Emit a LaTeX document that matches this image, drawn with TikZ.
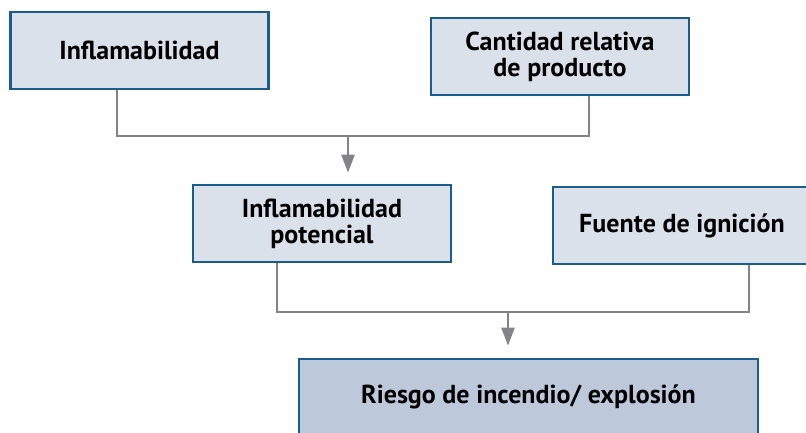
\documentclass[tikz,border=0pt]{standalone}
\usepackage{fontspec}
\setmainfont{PT Sans}
\usetikzlibrary{arrows.meta}
\definecolor{bordblue}{HTML}{1A5D8C}
\definecolor{filllight}{HTML}{DBE1EA}
\definecolor{filldark}{HTML}{BDC9DB}
\definecolor{conngray}{HTML}{848488}
\tikzset{
  box/.style={draw=bordblue, line width=2.6pt, fill=filllight, minimum width=258pt, minimum height=77pt, inner sep=0pt, align=center, font=\fontsize{26}{26}\selectfont\bfseries, text=black},
  bigbox/.style={box, fill=filldark, minimum width=459pt, minimum height=76pt},
  conn/.style={draw=conngray, line width=2.4pt},
  arr/.style={conn, -{Triangle[width=13pt,length=18pt]}}
}
\begin{document}
\begin{tikzpicture}[x=1pt,y=-1pt]
\useasboundingbox (0,0) rectangle (806,433);
\clip (0,0) rectangle (806,433);
\node[box] (b1) at (139.5,50.5) {Inflamabilidad};
\node[box] (b2) at (560,56.5) {Cantidad relativa\\de producto};
\node[box] (b3) at (322,223.5) {Inflamabilidad\\potencial};
\node[box] (b4) at (682,225.5) {Fuente de ignición};
\node[bigbox] (b5) at (528.5,397) {Riesgo de incendio/ explosión};
\coordinate (m1) at (348,136);
\coordinate (m2) at (508,312);
\draw[conn] ([xshift=-22.5pt]b1.south) |- (m1) -| ([xshift=29pt]b2.south);
\draw[arr, shorten >=11pt] (m1) -- (b3.north -| m1);
\draw[conn] ([xshift=-45pt]b3.south) |- (m2) -| ([xshift=67pt]b4.south);
\draw[arr, shorten >=12pt] (m2) -- (b5.north -| m2);
\end{tikzpicture}
\end{document}
